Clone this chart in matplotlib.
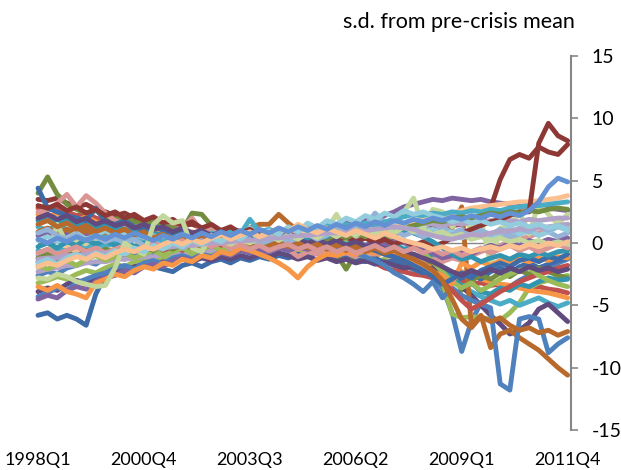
import matplotlib.pyplot as plt

# Quarters 1998Q1 .. 2011Q4
quarters = [f"{1998 + q // 4}Q{q % 4 + 1}" for q in range(56)]
tick_labels = ["1998Q1", "2000Q4", "2003Q3", "2006Q2", "2009Q1", "2011Q4"]
y_ticks = [-15, -10, -5, 0, 5, 10, 15]

# Series values (s.d. from pre-crisis mean)
blue_dip = [-2.6, -2.3, -2.5, -2.0, -1.8, -1.5, -1.7, -1.2,
            -1.0, -1.3, -0.8, -0.6, -0.9, -0.5, -0.7, -0.3,
            -0.6, -0.4, -0.2, -0.5, -0.3, 0.0, -0.4, -0.1,
            0.2, -0.1, 0.3, 0.0, 0.4, 0.1, -0.2, 0.2,
            0.5, 0.1, -0.3, -0.6, -0.9, -1.2, -1.0, -1.5,
            -2.0, -2.6, -3.6, -5.6, -8.7, -6.3, -4.8, -4.2,
            -3.8, -3.5, -3.0, -2.6, -2.3, -2.0, -1.6, -1.3]
red_decline = [2.8, 2.6, 2.9, 2.5, 2.2, 2.4, 2.0, 1.8,
               1.9, 1.5, 1.3, 1.6, 1.2, 1.0, 1.3, 0.9,
               0.7, 1.0, 0.6, 0.8, 0.4, 0.6, 0.3, 0.5,
               0.2, 0.4, 0.1, 0.3, -0.1, 0.0, -0.3, -0.5,
               -0.8, -1.0, -1.3, -1.6, -2.0, -2.2, -2.3, -2.5,
               -2.6, -2.8, -2.9, -3.1, -3.0, -3.3, -3.2, -3.4,
               -3.3, -3.5, -3.4, -3.6, -3.5, -3.7, -3.8, -4.0]
green_crisis = [-3.2, -3.0, -2.7, -2.9, -2.5, -2.2, -2.4, -2.0,
                -1.7, -1.9, -1.5, -1.3, -1.6, -1.1, -1.3, -0.9,
                -1.1, -0.8, -1.0, -0.6, -0.9, -0.5, -0.7, -0.4,
                -0.6, -0.3, -0.5, -0.8, -0.4, -0.6, -0.9, -1.2,
                -1.0, -1.3, -1.1, -1.5, -1.3, -1.8, -1.6, -2.0,
                -2.1, -2.4, -3.2, -5.7, -6.0, -5.9, -6.0, -6.1,
                -6.2, -5.6, -4.8, -3.6, -3.2, -3.0, -2.8, -2.6]
purple_top = [0.6, 0.9, 0.5, 0.8, 1.1, 0.7, 0.9, 0.6,
              0.8, 0.5, 0.7, 0.4, 0.6, 0.3, 0.5, 0.2,
              0.4, 0.1, 0.3, 0.6, 0.4, 0.7, 0.5, 0.8,
              0.6, 0.9, 1.1, 0.8, 1.2, 1.0, 1.4, 1.2,
              1.6, 1.4, 1.9, 1.7, 2.2, 2.5, 2.9, 3.1,
              3.3, 3.5, 3.4, 3.6, 3.5, 3.4, 3.5, 3.3,
              3.2, 3.1, 3.0, 2.9, 3.0, 2.8, 2.7, 2.6]
aqua_crisis = [1.3, 1.0, 1.5, 1.1, 0.8, 1.2, 0.9, 0.6,
               0.9, 0.5, 0.7, 0.4, 0.8, 0.5, 0.3, 0.6,
               0.2, 0.5, 0.3, 0.1, 0.4, 0.6, 0.2, 0.4,
               0.1, 0.3, 0.0, -0.2, 0.1, -0.1, 0.2, -0.3,
               -0.1, -0.5, -0.3, -0.7, -0.5, -0.9, -1.2, -1.5,
               -1.8, -2.2, -2.5, -3.0, -3.4, -3.9, -4.3, -4.6,
               -4.9, -4.6, -5.0, -4.7, -4.4, -4.8, -5.1, -4.8]
orange_smooth = [2.3, 2.1, 2.4, 2.0, 1.8, 2.1, 1.7, 1.5,
                 1.7, 1.3, 1.1, 1.4, 1.0, 0.8, 1.1, 0.7,
                 0.9, 0.6, 0.4, 0.7, 0.3, 0.5, 0.2, 0.0,
                 0.3, -0.1, 0.1, -0.3, 0.0, -0.4, -0.2, -0.6,
                 -0.4, -0.8, -0.6, -1.0, -0.8, -1.2, -1.0, -1.4,
                 -1.6, -1.9, -2.1, -2.4, -2.3, -2.6, -2.9, -3.1,
                 -3.3, -3.4, -3.6, -3.8, -3.9, -4.0, -4.2, -4.4]
darkblue_low = [-5.8, -5.6, -6.1, -5.8, -6.1, -6.6, -4.1, -2.6,
                -2.2, -1.9, -2.0, -1.7, -1.9, -2.1, -2.3, -1.8,
                -1.6, -1.9, -1.5, -1.3, -1.6, -1.2, -1.4, -1.1,
                -1.3, -1.0, -1.2, -0.9, -1.1, -0.8, -1.0, -1.2,
                -0.9, -1.3, -1.5, -1.2, -1.6, -1.4, -1.8, -2.1,
                -2.4, -2.0, -2.6, -3.1, -2.8, -2.5, -2.9, -2.3,
                -2.0, -2.4, -1.9, -1.6, -2.0, -1.7, -1.4, -1.2]
darkred_a = [3.5, 3.4, 3.6, 3.2, 2.9, 3.1, 2.7, 2.5,
             2.2, 2.4, 2.0, 1.8, 1.9, 1.6, 1.7, 1.4,
             1.5, 1.2, 1.3, 1.0, 1.2, 0.9, 1.0, 0.8,
             0.9, 0.7, 0.8, 0.6, 0.9, 0.7, 1.0, 0.8,
             1.1, 0.9, 1.2, 1.0, 1.3, 1.1, 1.4, 1.2,
             1.5, 1.3, 1.6, 1.4, 1.5, 1.7, 1.6, 2.8,
             5.1, 6.7, 7.1, 6.8, 7.7, 7.3, 7.1, 7.9]
darkgreen_spike = [4.0, 5.3, 3.9, 3.1, 2.7, 2.4, 2.6, 2.1,
                   1.9, 2.1, 1.7, 1.5, 1.8, 1.4, 1.2, 1.0,
                   2.4, 2.3, 1.4, 0.9, 1.1, 0.7, 0.9, 0.5,
                   0.7, 0.4, 0.6, 0.2, 0.0, -0.3, -0.5, -0.9,
                   -2.1, -0.8, -0.6, -0.9, -0.5, -0.8, -1.1, -0.9,
                   -1.3, -1.6, -1.9, -2.5, -3.8, -3.0, -2.6, -2.9,
                   -2.4, -2.7, -2.2, -2.5, -2.0, -2.3, -2.6, -2.8]
darkpurple_low = [-3.9, -3.6, -3.8, -3.3, -3.0, -3.2, -2.7, -2.5,
                  -2.2, -2.4, -1.9, -1.7, -1.9, -1.5, -1.6, -1.3,
                  -1.5, -1.2, -1.4, -1.1, -1.3, -1.0, -1.2, -0.9,
                  -1.1, -0.8, -1.0, -1.3, -1.1, -1.4, -1.2, -1.5,
                  -1.3, -1.6, -1.4, -1.7, -1.5, -1.8, -2.0, -1.9,
                  -2.2, -2.0, -2.4, -2.8, -3.5, -4.2, -5.0, -5.8,
                  -6.5, -7.3, -7.0, -6.4, -5.3, -4.9, -5.6, -6.3]
darkaqua_a = [1.8, 2.1, 1.6, 1.9, 1.4, 1.7, 1.2, 1.5,
              1.1, 1.3, 0.9, 1.2, 0.8, 0.6, 0.9, 0.5,
              0.7, 0.3, 0.6, 0.2, 0.5, 0.1, 0.4, 0.0,
              0.3, -0.1, 0.2, 0.5, 0.1, 0.4, 0.0, 0.3,
              -0.1, 0.2, -0.2, 0.1, -0.3, -0.1, -0.5, -0.3,
              -0.8, -1.2, -2.0, -2.7, -3.5, -3.2, -3.9, -4.1,
              -3.6, -3.8, -3.3, -3.5, -3.1, -2.8, -3.0, -2.9]
brown_crash = [0.9, 1.2, 0.8, 1.1, 0.7, 1.0, 0.6, 0.9,
               0.5, 0.8, 0.4, 0.7, 0.3, 0.6, 0.2, 0.5,
               0.8, 0.4, 0.6, 0.9, 0.5, 0.8, 1.2, 1.5,
               1.5, 2.3, 1.6, 1.0, 1.2, 0.8, 1.0, 0.7,
               0.9, 0.6, 0.8, 0.5, 0.9, 0.7, 1.0, 1.1,
               1.2, 1.0, 1.3, 1.2, 2.9, -6.6, -5.8, -8.4,
               -7.3, -7.0, -7.6, -8.1, -8.6, -9.3, -10.0, -10.6]
lightblue_a = [-1.0, -1.3, -0.8, -1.1, -0.6, -1.2, -0.9, -0.3,
               -0.6, -0.1, 0.4, 0.2, 0.6, 0.3, -0.1, 0.4,
               0.1, 0.5, 0.2, -0.2, 0.3, -0.4, 0.0, 0.5,
               0.2, 0.7, 0.4, 0.9, 0.6, 1.1, 0.8, 1.3,
               1.0, 1.7, 1.4, 2.4, 1.6, 1.2, 1.5, 1.1,
               1.4, 0.9, 1.3, 0.8, 1.1, 0.6, 0.9, 0.5,
               0.8, 0.4, 0.7, 1.0, 0.6, 0.9, 0.5, 0.8]
pink_a = [2.5, 2.6, 3.2, 3.9, 2.9, 3.8, 3.2, 2.4,
          1.8, 1.5, 1.3, 1.4, 1.1, 1.3, 0.9, 1.2,
          2.0, 0.9, 1.1, 0.6, 0.8, 0.4, 0.2, -0.1,
          0.1, -0.3, -0.5, -1.1, -0.7, -0.9, -0.6, -1.0,
          -0.8, -1.1, -0.7, -0.9, -0.6, -0.8, -1.0, -1.2,
          -1.4, -1.3, -1.5, -1.2, -1.4, -1.0, -0.7, -0.4,
          -0.2, 0.1, 0.3, 0.5, 0.8, 1.0, 1.3, 1.5]
lightgreen_a = [-2.0, -1.0, 1.5, -0.1, 0.3, -0.2, 0.2, -0.4,
                0.0, -0.5, -0.2, -0.6, -0.3, -0.8, -0.4, -0.7,
                -0.5, -0.2, -0.6, -0.3, 0.0, -0.4, 0.1, 0.4,
                0.1, 0.5, 0.2, 0.6, 0.9, 0.5, 1.1, 2.3,
                0.9, 1.3, 1.0, 1.5, 1.2, 1.9, 2.5, 3.6,
                1.2, 2.7, 2.5, 1.3, 2.0, 1.2, 1.9, -1.7,
                1.2, 1.3, 2.5, 0.7, 3.2, 2.3, 1.5, 2.3]
lavender_a = [-2.3, -2.1, -2.0, -1.8, -1.8, -1.6, -1.5, -1.5,
              -1.3, -1.3, -1.2, -1.1, -1.1, -0.9, -0.9, -0.8,
              -0.7, -0.7, -0.6, -0.5, -0.5, -0.4, -0.3, -0.3,
              -0.2, -0.1, 0.0, 0.0, 0.1, 0.2, 0.3, 0.3,
              0.5, 0.5, 0.7, 0.8, 1.0, 1.1, 1.3, 1.5,
              1.6, 1.5, 1.4, 1.6, 1.5, 1.7, 1.6, 1.8,
              1.7, 1.8, 1.7, 1.9, 1.8, 1.9, 2.0, 2.0]
lightaqua_a = [0.2, 0.5, 0.1, 0.4, 0.8, 0.3, 0.6, 1.0,
               0.5, 0.8, 0.3, 0.6, 0.2, 0.5, 0.9, 0.4,
               0.7, 0.3, 0.6, 1.0, 0.5, 0.8, 1.2, 0.7,
               1.0, 0.6, 0.9, 1.3, 0.8, 1.1, 0.7, 1.0,
               1.4, 0.9, 1.2, 0.8, 1.1, 1.5, 1.0, 1.3,
               0.8, 1.1, 0.6, 0.9, 0.4, 0.7, 1.0, 0.5,
               0.8, 1.2, 0.7, 1.0, 0.6, 0.9, 1.3, 1.0]
lightorange_top = [-0.8, -0.5, -0.9, -0.4, -0.7, -0.3, -0.6, -0.2,
                   -0.4, 0.0, -0.3, 0.1, -0.2, 0.2, 0.0, 0.3,
                   0.1, 0.4, 0.2, 0.5, 0.3, 0.6, 0.4, 0.7,
                   0.6, 0.9, 0.7, 1.0, 0.8, 1.1, 0.9, 1.2,
                   1.0, 1.3, 1.1, 1.4, 1.2, 1.3, 1.5, 1.6,
                   1.8, 1.9, 2.2, 2.4, 2.6, 2.8, 2.9, 3.0,
                   3.1, 3.2, 3.3, 3.3, 3.4, 3.5, 3.6, 3.8]
blue_deep = [-4.3, -4.0, -3.6, -3.8, -3.2, -2.9, -2.6, -2.4,
             -2.0, -1.8, -2.1, -1.6, -1.4, -1.7, -1.2, -1.0,
             -1.3, -0.9, -1.1, -0.7, -0.9, -0.6, -0.8, -0.5,
             -0.7, -0.4, -0.6, -0.3, -0.5, -0.2, -0.4, -0.6,
             -0.3, -0.8, -1.1, -1.4, -1.8, -2.4, -2.8, -3.3,
             -3.9, -3.1, -4.4, -3.6, -4.2, -4.6, -4.9, -5.2,
             -11.3, -11.8, -6.1, -5.9, -6.1, -8.8, -8.1, -7.6]
red_mid = [-1.5, -1.2, -1.6, -1.3, -0.9, -1.2, -0.8, -1.1,
           -0.7, -0.9, -0.5, -0.8, -0.4, -0.7, -0.3, -0.6,
           -0.2, -0.5, -0.1, -0.4, 0.0, -0.3, 0.1, -0.2,
           0.2, -0.1, 0.3, 0.0, -0.2, 0.1, -0.3, -0.1,
           -0.4, -0.2, -0.6, -0.4, -0.8, -1.1, -1.4, -1.8,
           -2.1, -2.5, -3.0, -3.8, -4.6, -5.3, -4.9, -4.4,
           -3.9, -3.5, -3.1, -2.8, -2.5, -2.3, -2.0, -1.8]
green_mid = [-1.8, -2.1, -1.7, -1.4, -1.8, -1.3, -1.0, -1.4,
             -1.1, -0.8, -1.2, -0.9, -0.6, -1.0, -0.7, -0.4,
             -0.8, -0.5, -0.2, -0.6, -0.3, 0.1, -0.2, 0.2,
             -0.1, 0.3, 0.0, 0.4, 0.1, 0.5, 0.2, 0.6,
             0.3, 0.7, 0.4, 0.8, 0.5, 0.3, 0.1, -0.3,
             -0.8, -1.5, -2.3, -3.1, -3.6, -3.2, -3.8, -3.4,
             -2.9, -2.5, -2.2, -2.0, -2.6, -3.0, -3.3, -3.5]
purple_low = [-4.5, -4.2, -4.4, -3.8, -3.5, -3.7, -3.1, -2.8,
              -2.6, -2.2, -2.4, -1.9, -1.7, -1.9, -1.4, -1.2,
              -1.4, -1.0, -1.2, -0.8, -1.0, -0.6, -0.8, -0.5,
              -0.7, -0.4, -0.6, -0.3, -0.5, -0.2, -0.4, -0.1,
              -0.3, 0.0, -0.2, 0.1, -0.1, 0.2, 0.0, -0.2,
              -0.5, -0.8, -1.2, -1.0, -0.7, -0.9, -0.5, -0.2,
              -0.4, 0.0, -0.2, 0.2, 0.0, 0.3, 0.1, 0.4]
aqua_up = [-0.6, -0.9, -0.4, -0.7, -0.2, -0.5, 0.0, -0.3,
           0.1, -0.2, 0.3, 0.0, 0.4, 0.1, 0.5, 0.2,
           0.6, 0.3, 0.8, 0.5, 1.0, 0.7, 1.9, 0.9,
           1.1, 0.8, 1.2, 1.0, 1.3, 1.1, 1.4, 1.2,
           1.5, 1.3, 1.6, 1.4, 1.7, 1.9, 2.1, 2.3,
           2.2, 2.4, 2.3, 2.5, 2.4, 2.6, 2.5, 2.7,
           2.6, 2.8, 2.9, 3.0, 3.0, 3.1, 3.2, 3.3]
orange_v = [-3.5, -3.8, -3.4, -3.9, -4.1, -4.4, -3.2, -2.9,
            -2.5, -2.7, -2.2, -1.9, -2.1, -1.6, -1.8, -1.3,
            -1.5, -1.0, -1.2, -0.7, -0.9, -0.4, -0.6, -0.9,
            -1.2, -1.6, -2.1, -2.8, -1.9, -1.3, -0.9, -1.0,
            -0.7, -0.9, -0.6, -0.8, -0.5, -0.7, -1.0, -1.4,
            -1.8, -2.3, -2.6, -3.3, -1.6, -2.0, -1.5, -1.8,
            -1.4, -1.6, -1.3, -1.5, -1.2, -1.4, -1.1, -1.2]
darkblue_high = [4.4, 2.8, 2.5, 2.2, 2.0, 1.8, 2.8, 1.7,
                 1.5, 1.8, 1.3, 1.1, 1.4, 1.0, 0.8, 1.1,
                 0.7, 0.9, 0.5, 0.8, 0.4, 0.6, 0.3, 0.5,
                 0.2, 0.4, 0.1, 0.3, 0.0, 0.2, -0.1, 0.1,
                 -0.2, 0.0, -0.4, -0.6, -0.9, -1.1, -1.4, -1.8,
                 -2.2, -2.7, -3.3, -2.9, -2.4, -2.8, -2.2, -1.9,
                 -1.6, -1.9, -1.4, -1.2, -1.5, -1.1, -1.3, -0.9]
darkred_b = [3.0, 2.8, 3.1, 2.6, 2.9, 2.4, 2.7, 2.2,
             2.5, 2.0, 2.3, 1.8, 2.1, 1.6, 1.9, 1.4,
             1.7, 1.2, 1.5, 1.0, 1.3, 0.8, 1.1, 0.6,
             0.9, 0.5, 0.8, 0.4, 0.7, 0.3, 0.6, 0.2,
             0.5, 0.1, 0.4, 0.0, 0.3, -0.1, 0.2, -0.2,
             0.1, -0.3, 0.0, 0.4, 0.8, 1.1, 1.4, 1.7,
             1.9, 2.2, 2.5, 2.5, 8.0, 9.6, 8.6, 8.2]
darkgreen_up = [-1.2, -0.9, -1.3, -0.8, -1.1, -0.6, -0.9, -0.5,
                -0.8, -0.4, -0.7, -0.3, -0.6, -0.2, -0.5, -0.1,
                -0.4, 0.0, -0.3, 0.1, -0.2, 0.2, -0.1, 0.3,
                0.0, 0.4, 0.1, 0.5, 0.2, 0.6, 0.3, 0.7,
                0.4, 0.8, 0.5, 0.9, 0.7, 1.0, 1.2, 1.4,
                1.6, 1.8, 1.7, 1.9, 2.1, 2.0, 2.2, 2.4,
                2.3, 2.5, 2.4, 2.6, 2.5, 2.7, 2.8, 2.7]
darkpurple_mid = [2.0, 2.3, 1.9, 2.2, 1.7, 2.0, 1.5, 1.8,
                  1.4, 1.6, 1.2, 1.5, 1.1, 1.3, 0.9, 1.2,
                  0.8, 1.0, 0.6, 0.9, 0.5, 0.7, 0.3, 0.6,
                  0.2, 0.5, 0.1, 0.4, 0.0, 0.3, -0.1, 0.2,
                  -0.2, 0.1, -0.3, -0.1, -0.5, -0.3, -0.7, -0.9,
                  -1.2, -1.5, -1.9, -2.3, -2.6, -2.2, -2.5, -2.1,
                  -2.4, -2.0, -2.3, -1.9, -2.2, -2.0, -2.3, -2.1]
darkaqua_b = [-0.3, 0.0, -0.4, 0.1, -0.2, 0.3, -0.1, 0.2,
              -0.2, 0.1, -0.3, 0.0, -0.4, -0.1, -0.3, 0.1,
              -0.2, 0.2, -0.1, 0.3, 0.0, 0.4, 0.1, 0.5,
              0.2, 0.6, 0.3, 0.7, 0.4, 0.8, 0.5, 0.9,
              0.6, 1.0, 0.7, 1.1, 0.8, 1.2, 1.0, 0.8,
              0.5, 0.1, -0.4, -0.9, -1.3, -1.1, -1.5, -1.2,
              -1.0, -1.3, -0.9, -1.1, -0.8, -1.0, -0.7, -0.6]
brown_b = [1.5, 1.8, 1.3, 1.6, 1.1, 1.4, 0.9, 1.2,
           0.8, 1.1, 0.6, 0.9, 0.4, 0.7, 0.3, 0.6,
           0.2, 0.5, 0.1, 0.4, 0.0, 0.3, -0.1, 0.2,
           -0.2, 0.1, -0.3, 0.0, -0.4, -0.1, -0.5, -0.2,
           -0.6, -0.3, -0.7, -0.4, -0.8, -0.6, -1.0, -1.3,
           -1.7, -2.2, -3.0, -4.5, -6.1, -6.8, -5.9, -6.3,
           -6.0, -6.6, -7.0, -6.8, -7.2, -7.0, -7.4, -7.1]
lightblue_b = [0.8, 1.1, 0.6, 0.3, 0.7, 0.2, 0.5, 0.1,
               0.4, 0.0, 0.3, -0.2, 0.1, -0.3, 0.0, -0.4,
               -0.1, 0.2, -0.2, 0.1, -0.3, 0.0, 0.3, -0.1,
               0.2, 0.5, 0.1, 0.4, 0.7, 0.3, 0.6, 1.4,
               0.9, 1.2, 0.8, 1.1, 0.7, 1.0, 0.6, 0.9,
               0.5, 0.8, 0.4, 0.7, 0.9, 0.6, 1.0, 0.7,
               1.1, 0.8, 1.2, 0.9, 1.3, 1.0, 1.4, 1.2]
pink_b = [-0.8, -0.5, -0.9, -0.6, -0.3, -0.7, -0.4, -0.8,
          -0.5, -0.2, -0.6, -0.3, 0.0, -0.4, -0.1, 0.2,
          -0.2, 0.1, -0.3, 0.0, -0.4, -0.1, -0.5, -0.2,
          -0.6, -0.3, -0.1, -0.5, -0.2, -0.6, -0.3, -0.7,
          -0.4, -0.8, -0.5, -0.2, -0.6, -0.3, -0.7, -0.4,
          -0.8, -0.5, -0.9, -0.6, -1.0, -0.7, -0.4, -0.8,
          -0.5, -0.2, -0.6, -0.3, -0.7, -0.4, -0.1, -0.4]
lightgreen_b = [-2.8, -2.9, -2.5, -2.7, -3.1, -3.3, -3.5, -3.4,
                -2.0, 0.0, -0.5, -0.9, 1.5, 2.2, 1.6, 1.8,
                -0.4, -0.7, 0.6, 0.2, -0.1, 0.3, 0.0, 0.4,
                0.6, 0.2, 0.7, 0.3, 0.8, 0.4, 0.9, 0.5,
                1.0, 0.6, 1.1, 0.7, 1.2, 0.8, 1.3, 0.9,
                1.1, 0.7, 0.9, 0.5, 0.7, 0.3, 0.5, 0.2,
                0.4, 0.1, 0.3, 0.0, 0.2, -0.1, 0.1, -0.1]
lavender_b = [-1.3, -1.2, -1.2, -1.0, -1.0, -0.9, -0.8, -0.8,
              -0.7, -0.6, -0.6, -0.5, -0.4, -0.4, -0.3, -0.2,
              -0.2, -0.1, 0.0, 0.0, 0.1, 0.2, 0.2, 0.3,
              0.4, 0.4, 0.5, 0.6, 0.6, 0.7, 0.8, 0.8,
              0.9, 1.0, 1.0, 1.1, 1.2, 1.3, 1.2, 1.1,
              0.8, 0.6, 0.4, 0.3, 0.5, 0.7, 0.6, 0.8,
              0.9, 1.0, 1.1, 1.2, 1.2, 1.3, 1.4, 1.5]
lightaqua_b = [-1.6, -1.3, -1.7, -1.2, -0.9, -1.3, -0.8, -1.1,
               -0.6, -0.9, -0.4, -0.7, -0.2, -0.5, 0.0, -0.3,
               0.2, -0.1, 0.4, 0.1, 0.6, 0.3, 0.8, 0.5,
               1.0, 0.7, 1.3, 0.9, 1.6, 1.2, 1.8, 1.5,
               2.0, 1.7, 2.2, 1.9, 2.4, 2.1, 2.6, 2.3,
               2.5, 2.2, 2.0, 1.7, 1.9, 1.6, 1.8, 1.5,
               1.7, 1.4, 1.6, 1.3, 1.5, 1.2, 1.4, 1.1]
lightorange_b = [-1.9, -1.6, -1.8, -1.4, -1.1, -1.3, -0.9, -1.2,
                 -0.8, -0.5, -0.7, -0.3, -0.5, -0.1, 0.2, -0.1,
                 0.3, 0.0, 0.4, 0.7, 0.3, 0.6, 0.9, 0.5,
                 0.8, 1.2, 0.9, 1.5, 1.1, 0.8, 1.2, 0.9,
                 0.6, 1.0, 0.7, 0.4, 0.8, 0.5, 0.2, 0.0,
                 -0.2, -0.5, -0.3, -0.6, -0.4, -0.7, -0.5, -0.3,
                 -0.5, -0.2, -0.4, -0.1, -0.3, 0.0, -0.2, 0.1]
blue_up = [0.3, 0.0, 0.4, 0.1, 0.5, 0.2, 0.6, 0.3,
           0.7, 0.4, 0.8, 0.5, 0.2, 0.6, 0.3, 0.7,
           0.4, 0.8, 0.5, 0.9, 0.6, 1.0, 0.7, 1.1,
           0.8, 1.2, 0.9, 1.3, 1.0, 1.4, 1.1, 1.5,
           1.2, 1.6, 1.3, 1.7, 1.4, 1.8, 1.6, 1.9,
           1.7, 2.0, 1.8, 2.1, 1.9, 2.2, 2.0, 2.3,
           2.1, 2.4, 2.2, 2.6, 3.3, 4.5, 5.2, 4.9]

series = [blue_dip, red_decline, green_crisis, purple_top, aqua_crisis, orange_smooth,
          darkblue_low, darkred_a, darkgreen_spike, darkpurple_low, darkaqua_a, brown_crash,
          lightblue_a, pink_a, lightgreen_a, lavender_a, lightaqua_a, lightorange_top,
          blue_deep, red_mid, green_mid, purple_low, aqua_up, orange_v,
          darkblue_high, darkred_b, darkgreen_up, darkpurple_mid, darkaqua_b, brown_b,
          lightblue_b, pink_b, lightgreen_b, lavender_b, lightaqua_b, lightorange_b,
          blue_up]

# Excel-style colour cycle: base, darker, lighter
base = ["#4F81BD", "#C0504D", "#9BBB59", "#8064A2", "#4BACC6", "#F79646"]
dark = ["#3D6CA8", "#8E3836", "#738C3F", "#614A7E", "#3294AE", "#B86A2C"]
light = ["#95B3D7", "#D99694", "#C3D69B", "#B3A2C7", "#93CDDD", "#FAC090"]
colors = (base + dark + light) * 2 + ["#6391D3"]

fig = plt.figure(figsize=(6.21, 4.70), dpi=100)
ax = fig.add_axes([38 / 621, 1 - 430 / 470, (571 - 38) / 621, (430 - 56) / 470])

ax.axhline(0, color="#868686", lw=1.0, zorder=0.5)

for vals, col in zip(series, colors):
    ax.plot(range(len(vals)), vals, color=col, lw=3.5,
            solid_joinstyle="round", solid_capstyle="round", clip_on=False)

ax.set_xlim(0, 55.35)
ax.set_ylim(-15, 15)

font = "Lato"
ax.set_xticks([quarters.index(t) for t in tick_labels])
ax.set_xticklabels(tick_labels, fontsize=13, family=font)
ax.tick_params(axis="x", length=0, pad=16)

ax.yaxis.tick_right()
ax.set_yticks(y_ticks)
ax.set_yticklabels([str(v) for v in y_ticks], fontsize=14, family=font)
ax.tick_params(axis="y", direction="out", length=5, width=1.2, color="#868686", pad=10)

for side in ["left", "top", "bottom"]:
    ax.spines[side].set_visible(False)
ax.spines["right"].set_color("#868686")
ax.spines["right"].set_linewidth(1.5)

fig.text(459 / 621, 1 - 22 / 470, "s.d. from pre-crisis mean", ha="center", va="center",
         fontsize=15.5, family=font)

fig.savefig("out.png", dpi=100)
